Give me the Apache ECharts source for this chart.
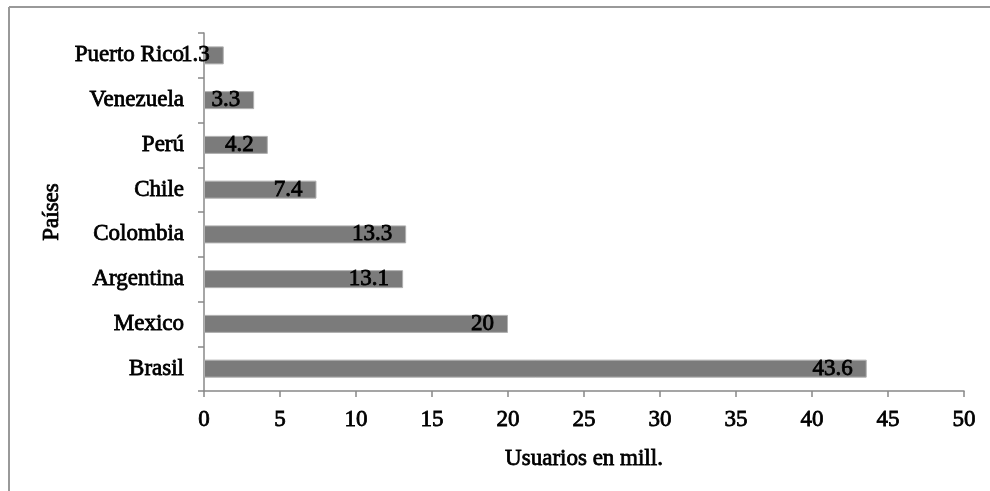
<!DOCTYPE html>
<html>
<head>
<meta charset="utf-8">
<script src="https://cdn.jsdelivr.net/npm/echarts@6/dist/echarts.min.js"></script>
<style>html,body{margin:0;padding:0;background:#fff}#c{width:990px;height:491px}</style>
</head>
<body>
<div id="c"></div>
<script>
var categories = ['Brasil', 'Mexico', 'Argentina', 'Colombia', 'Chile', 'Perú', 'Venezuela', 'Puerto Rico'];
var values = [43.6, 20, 13.1, 13.3, 7.4, 4.2, 3.3, 1.3];
var xTicks = [0, 5, 10, 15, 20, 25, 30, 35, 40, 45, 50];

var font = '"Liberation Serif", "Times New Roman", serif';
var txt = {fontFamily: font, fontSize: 23, fontWeight: 'normal', color: '#000', textBorderColor: '#000', textBorderWidth: 0.8};
var chart = echarts.init(document.getElementById('c'), null, {renderer: 'canvas'});
chart.setOption({
  animation: false,
  backgroundColor: '#fff',
  graphic: [
    {type: 'line', shape: {x1: 9, y1: 7, x2: 990, y2: 7}, style: {stroke: '#999', lineWidth: 2}},
    {type: 'line', shape: {x1: 9, y1: 7, x2: 9, y2: 491}, style: {stroke: '#999', lineWidth: 2}}
  ],
  grid: {left: 204, right: 26, top: 33, bottom: 100, containLabel: false},
  xAxis: {
    type: 'value',
    min: xTicks[0],
    max: xTicks[xTicks.length - 1],
    interval: 5,
    name: 'Usuarios en mill.',
    nameLocation: 'middle',
    nameGap: 56,
    nameTextStyle: Object.assign({}, txt),
    axisLine: {show: true, lineStyle: {color: '#888', width: 1.5}},
    axisTick: {show: true, length: 6, lineStyle: {color: '#888', width: 1.5}},
    axisLabel: Object.assign({margin: 17}, txt),
    splitLine: {show: false}
  },
  yAxis: {
    type: 'category',
    data: categories,
    name: 'Países',
    nameLocation: 'middle',
    nameGap: 140,
    nameRotate: 90,
    nameTextStyle: Object.assign({}, txt),
    axisLine: {show: true, lineStyle: {color: '#888', width: 1.5}},
    axisTick: {show: true, length: 6, alignWithLabel: false, lineStyle: {color: '#888', width: 1.5}},
    axisLabel: Object.assign({margin: 20}, txt)
  },
  series: [{
    type: 'bar',
    data: values,
    barWidth: 18,
    itemStyle: {color: '#7b7b7b', borderColor: '#b0b0b0', borderWidth: 1},
    label: Object.assign({show: true, position: 'insideRight', distance: 14}, txt)
  }]
});
</script>
</body>
</html>
